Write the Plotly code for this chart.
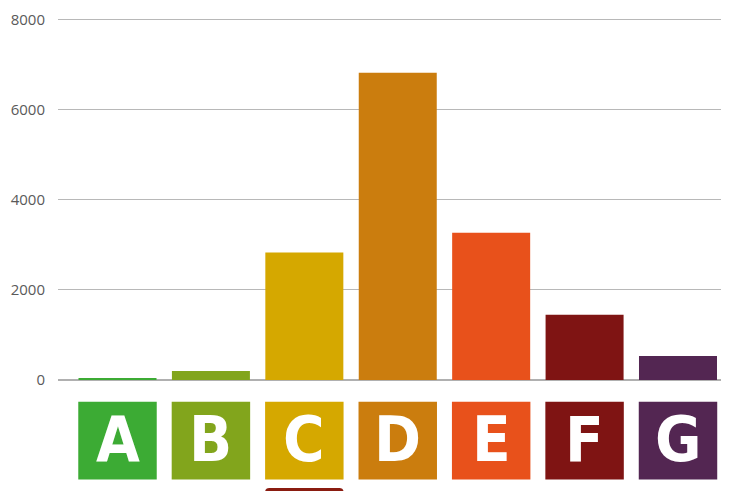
import plotly.graph_objects as go

categories = ["A", "B", "C", "D", "E", "F", "G"]
values = [40, 200, 2830, 6815, 3265, 1450, 535]
colors = ["#3cab34", "#82a51c", "#d5a800", "#cb7d0e", "#e8511b", "#7f1413", "#532652"]
tick_vals = [0, 2000, 4000, 6000, 8000]
tick_text = ["0", "2000", "4000", "6000", "8000"]
highlight = "C"
highlight_color = "#8a1c10"

x_idx = list(range(len(categories)))

fig = go.Figure(go.Bar(
    x=x_idx, y=values, marker=dict(color=colors, line=dict(width=0)),
    hoverinfo="skip",
))

half = 0.42
shapes = []
annotations = []
box_top, box_bot = -0.060, -0.275
for i, (c, col) in enumerate(zip(categories, colors)):
    shapes.append(dict(type="rect", xref="x", yref="paper",
                       x0=i - half, x1=i + half, y0=box_bot, y1=box_top,
                       fillcolor=col, line=dict(width=0), layer="above"))
    annotations.append(dict(x=i, y=(box_top + box_bot) / 2 + 0.002, xref="x", yref="paper",
                            text=c, showarrow=False, xanchor="center", yanchor="middle",
                            font=dict(family="DejaVu Sans Condensed", size=63,
                                      color="white", weight="bold")))

# highlight marker under the chosen category (partially visible)
hi = categories.index(highlight)
rx, ry = 0.045, 0.012
top = -0.298
x0, x1 = hi - half, hi + half
path = (f"M {x0},-0.40 L {x0},{top - ry} Q {x0},{top} {x0 + rx},{top} "
        f"L {x1 - rx},{top} Q {x1},{top} {x1},{top - ry} L {x1},-0.40 Z")
shapes.append(dict(type="path", xref="x", yref="paper", path=path,
                   fillcolor=highlight_color, line=dict(width=0)))

fig.update_layout(
    width=721, height=483,
    margin=dict(l=50, r=0, t=10, b=111),
    paper_bgcolor="white", plot_bgcolor="white",
    bargap=0.165,
    showlegend=False,
    shapes=shapes, annotations=annotations,
    xaxis=dict(range=[-0.637, 6.546], showticklabels=False, showgrid=False,
               zeroline=False, showline=False, ticks=""),
    yaxis=dict(range=[0, 8030], tickvals=tick_vals, ticktext=tick_text,
               showgrid=True, gridcolor="#b8b8b8", gridwidth=1.3,
               zeroline=True, zerolinecolor="#b0b0b0", zerolinewidth=1.5,
               showline=False, ticks="", ticklabelstandoff=12,
               tickfont=dict(family="Open Sans", size=15, color="#5a5a5a")),
)

fig.write_html("out.html")
